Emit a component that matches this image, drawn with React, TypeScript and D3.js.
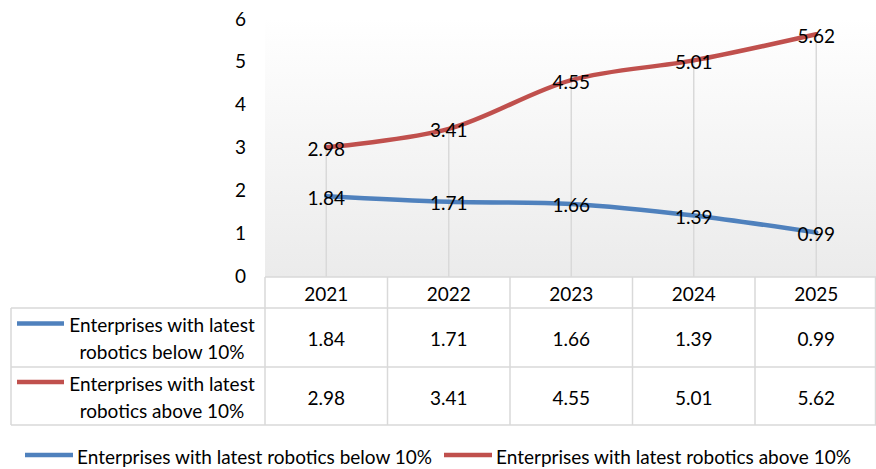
import React from "react";
import * as d3 from "d3";

const years = ["2021", "2022", "2023", "2024", "2025"];
const seriesNames = [
  "Enterprises with latest robotics below 10%",
  "Enterprises with latest robotics above 10%",
];
const rowLabelLines = [
  ["Enterprises with latest", "robotics below 10%"],
  ["Enterprises with latest", "robotics above 10%"],
];
const below = [1.84, 1.71, 1.66, 1.39, 0.99];
const above = [2.98, 3.41, 4.55, 5.01, 5.62];
const yTicks = [0, 1, 2, 3, 4, 5, 6];
const colors = ["#4f81bd", "#c0504d"];

const W = 876;
const H = 469;
const FONT = "Lato, 'Open Sans', sans-serif";

export default function App() {
  const x = d3.scaleBand().domain(years).range([265, 877.5]);
  const y = d3.scaleLinear().domain([0, 6]).range([275, 18]);
  const cx = (d: string) => (x(d) as number) + x.bandwidth() / 2;
  const series = [below, above];
  const line = d3
    .line<number>()
    .x((_, i) => cx(years[i]))
    .y((v) => y(v))
    .curve(d3.curveCatmullRom.alpha(0.5));

  const tableTop = 277;
  const rowLines = [308, 367, 425];
  const tableLeft = 11;
  const gridColor = "#d9d9d9";
  const fs = 19;

  return (
    <svg width={W} height={H} style={{ position: "absolute", left: 0, top: 0 }} fontFamily={FONT}>
      <defs>
        <linearGradient id="bg" x1="0" y1="0" x2="0" y2="1">
          <stop offset="0" stopColor="#ffffff" />
          <stop offset="1" stopColor="#ebebeb" />
        </linearGradient>
      </defs>
      <rect x={0} y={0} width={W} height={H} fill="#fff" />
      <rect x={265} y={y(6)} width={W - 265} height={y(0) - y(6) + 2} fill="url(#bg)" />
      {years.map((yr, i) => (
        <line
          key={yr}
          x1={cx(yr)}
          x2={cx(yr)}
          y1={y(Math.max(below[i], above[i]))}
          y2={y(0) + 2}
          stroke={gridColor}
          strokeWidth={1.5}
        />
      ))}
      {yTicks.map((t) => (
        <text key={t} x={246} y={y(t)} textAnchor="end" dominantBaseline="central" fontSize={fs} fill="#000">
          {t}
        </text>
      ))}
      {series.map((s, k) => (
        <path key={k} d={line(s) as string} fill="none" stroke={colors[k]} strokeWidth={4.5} strokeLinecap="round" />
      ))}
      {series.map((s, k) =>
        s.map((v, i) => (
          <text
            key={k + "-" + i}
            x={cx(years[i])}
            y={y(v) + 1}
            textAnchor="middle"
            dominantBaseline="central"
            fontSize={fs}
            fill="#000"
          >
            {v.toFixed(2)}
          </text>
        ))
      )}
      <g stroke={gridColor} strokeWidth={1.5}>
        <line x1={265} x2={W} y1={tableTop} y2={tableTop} />
        {rowLines.map((ry) => (
          <line key={ry} x1={tableLeft} x2={W} y1={ry} y2={ry} />
        ))}
        <line x1={tableLeft} x2={tableLeft} y1={rowLines[0]} y2={rowLines[2]} />
        {years.map((yr) => (
          <line key={yr} x1={x(yr) as number} x2={x(yr) as number} y1={tableTop} y2={rowLines[2]} />
        ))}
        <line x1={875.5} x2={875.5} y1={tableTop} y2={rowLines[2]} />
      </g>
      {years.map((yr) => (
        <text key={yr} x={cx(yr)} y={(tableTop + rowLines[0]) / 2 + 1} textAnchor="middle" dominantBaseline="central" fontSize={fs} fill="#000">
          {yr}
        </text>
      ))}
      {series.map((s, k) => {
        const top = rowLines[k];
        const bot = rowLines[k + 1];
        const mid = (top + bot) / 2;
        return (
          <g key={k}>
            <line x1={17} x2={64} y1={mid - 14} y2={mid - 14} stroke={colors[k]} strokeWidth={4.5} />
            <text x={162} y={mid - 13} textAnchor="middle" dominantBaseline="central" fontSize={fs} fill="#000">
              {rowLabelLines[k][0]}
            </text>
            <text x={162} y={mid + 14} textAnchor="middle" dominantBaseline="central" fontSize={fs} fill="#000">
              {rowLabelLines[k][1]}
            </text>
            {s.map((v, i) => (
              <text key={i} x={cx(years[i])} y={mid + 1} textAnchor="middle" dominantBaseline="central" fontSize={fs} fill="#000">
                {v.toFixed(2)}
              </text>
            ))}
          </g>
        );
      })}
      {seriesNames.map((n, k) => {
        const lx = k === 0 ? 25 : 444;
        return (
          <g key={n}>
            <line x1={lx} x2={lx + 48} y1={455} y2={455} stroke={colors[k]} strokeWidth={4.5} />
            <text x={lx + 52} y={456} dominantBaseline="central" fontSize={fs} fill="#000">
              {n}
            </text>
          </g>
        );
      })}
    </svg>
  );
}
